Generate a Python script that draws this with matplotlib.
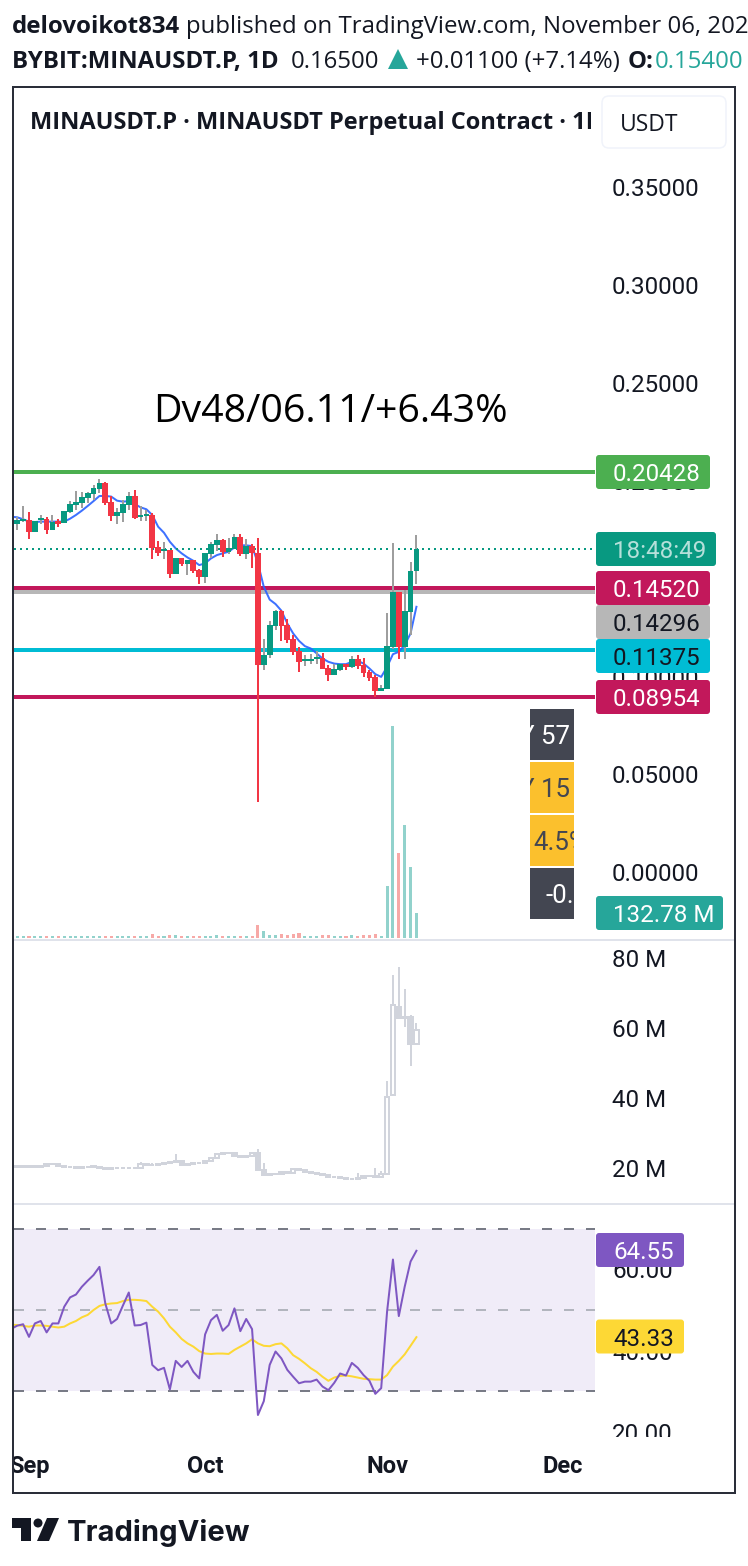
import matplotlib
matplotlib.use("Agg")
import numpy as np
import matplotlib.pyplot as plt
from matplotlib.patches import Rectangle, FancyBboxPatch, Polygon, Circle
from matplotlib.transforms import IdentityTransform, Bbox

plt.rcParams['font.family'] = ['Roboto', 'DejaVu Sans']
plt.rcParams['lines.scale_dashes'] = False

W, H = 748, 1566
PX = 0.72  # points per pixel at dpi 100
FS = 17.4

# ---------- data ----------
days = list(range(-2, 67))
line_days = [-3] + days
opens = [.1779,.1794,.1799,.1738,.1799,.1804,.1748,.1794,.1784,.1840,.1876,.1886,.1912,.1932,.1958,.1989,.1891,.1820,.1835,.1876,.1922,.1815,.1820,.1825,.1661,.1641,.1646,.1523,.1605,.1574,.1595,.1544,.1508,.1625,.1671,.1697,.1636,.1651,.1712,.1625,.1666,.1630,.1058,.1109,.1257,.1334,.1262,.1191,.1129,.1078,.1078,.1089,.1094,.1042,.1007,.1032,.1063,.1048,.1089,.1058,.1022,.0996,.0925,.0935,.1150,.1431,.1150,.1329,.1540]
closes = [.1799,.1804,.1738,.1794,.1810,.1748,.1789,.1779,.1845,.1881,.1891,.1917,.1937,.1963,.1989,.1886,.1820,.1840,.1881,.1922,.1810,.1825,.1830,.1656,.1630,.1651,.1523,.1605,.1574,.1595,.1538,.1508,.1630,.1676,.1697,.1636,.1656,.1712,.1625,.1666,.1629,.1058,.1112,.1262,.1334,.1257,.1186,.1124,.1073,.1087,.1087,.1099,.1037,.1007,.1037,.1063,.1048,.1089,.1053,.1017,.0991,.0925,.0940,.1155,.1431,.1150,.1334,.1539,.1650]
highs = [.1816,.1871,.1840,.1794,.1825,.1815,.1825,.1804,.1845,.1897,.1948,.1943,.1943,.1978,.2009,.1994,.1922,.1861,.1902,.1943,.1953,.1871,.1850,.1835,.1692,.1687,.1646,.1605,.1605,.1595,.1595,.1549,.1630,.1687,.1728,.1702,.1707,.1728,.1728,.1702,.1676,.1707,.1191,.1283,.1339,.1339,.1293,.1211,.1152,.1112,.1114,.1129,.1119,.1058,.1066,.1066,.1063,.1104,.1109,.1094,.1032,.1007,.0956,.1324,.1682,.1431,.1442,.1585,.1723]
lows = [.1748,.1791,.1702,.1738,.1779,.1728,.1748,.1764,.1784,.1833,.1850,.1861,.1886,.1902,.1937,.1876,.1794,.1779,.1789,.1850,.1804,.1794,.1794,.1600,.1615,.1600,.1503,.1523,.1564,.1518,.1528,.1472,.1477,.1603,.1641,.1610,.1625,.1651,.1615,.1600,.1554,.0357,.1032,.1094,.1237,.1181,.1170,.1109,.1022,.1053,.1063,.1063,.1037,.0976,.1007,.1027,.1032,.1042,.1037,.0996,.0976,.0894,.0925,.0935,.1138,.1089,.1089,.1211,.1472]
price_ma = [.1816,.1813,.1803,.1791,.1789,.1791,.1791,.1791,.1791,.1791,.1806,.1825,.1847,.1871,.1896,.1922,.1922,.1919,.1898,.1893,.1896,.1881,.1864,.1854,.1825,.1765,.1734,.1688,.1654,.1629,.1608,.1591,.1569,.1578,.1603,.1620,.1629,.1637,.1659,.1670,.1670,.1666,.1578,.1458,.1393,.1370,.1336,.1271,.1220,.1182,.1155,.1143,.1118,.1092,.1075,.1066,.1063,.1063,.1075,.1080,.1066,.1041,.1012,.0998,.1049,.1114,.1126,.1160,.1220,.1356]
volume = [10.6]*23 + [21,10.6,10.6,16,16,10.6,10.6,10.6,10.6,10.6,10.6,16,10.6,10.6,10.6,10.6,10.6,10.6,69,37,16,16,21,16,21,26,10.6,10.6,10.6,16,16,10.6,10.6,10.6,16,10.6,16,16,21,10.6,276,1126,451,600,377,132.78]

levels = [0.20428, 0.14520, 0.14296, 0.11375, 0.08954]
level_colors = ['#4caf50', '#c2185b', '#b7b7b7', '#00bcd4', '#c2185b']
last_close = 0.165
price_ticks = [0.35, 0.30, 0.25, 0.20, 0.15, 0.10, 0.05, 0.00]

oi_close = [20.4,20.4,20.4,20.4,20.6,21.2,21.2,20.6,20.4,20.2,20.1,20.2,20.4,20.4,20.0,19.8,19.9,20.0,20.0,20.0,20.0,21.2,20.9,20.9,21.1,21.3,21.6,22.1,20.8,21.2,21.3,21.5,22.1,22.8,24.0,24.4,24.2,23.4,23.2,23.4,24.2,19.4,18.0,18.2,18.2,19.0,18.7,19.6,19.4,19.0,18.7,18.3,18.0,17.5,17.3,17.1,16.9,16.9,17.1,17.7,17.7,17.3,18.2,40.4,66.6,62.8,62.96,55.3,59.4]
oi_open = [20.4] + oi_close[:63] + [40.9,65.9,63.2,63.2,55.3]
oi_wick_hi = {5:21.0, 22:21.6, 24:21.4, 28:24.0, 42:25.3, 43:21.3, 59:18.5, 62:19.9, 63:19.2, 64:44.9, 65:75.1, 66:77.3, 67:71.1, 68:63.6, 69:61.3}
oi_wick_lo = {68:49.2, 66:62.5, 67:60.2}
oi_ticks = [20, 40, 60, 80]

rsi = [45.4,46.15,46.5,43.4,46.7,47.3,44.5,46.7,46.7,50.8,53.1,53.8,55.7,57.2,58.6,60.6,51.6,46.7,47.8,51.1,54.3,46.2,46.3,46.9,36.5,35.2,35.8,30.5,37.5,36.0,37.5,34.8,33.2,44.0,47.5,48.8,44.9,46.3,50.4,44.8,47.8,45.3,24.2,27.6,36.5,39.8,38.1,35.3,33.6,32.0,32.4,32.4,32.9,31.2,30.3,32.1,34.4,33.9,37.0,35.8,34.0,32.6,29.4,30.8,49.6,62.4,48.5,55.7,61.9,64.55]
rsi_ma = [46.4,46.3,46.1,45.9,46.2,46.2,46.1,45.9,45.7,45.9,46.7,47.3,48.2,48.8,50.0,51.0,51.4,51.6,51.7,52.2,52.5,52.5,52.4,52.2,50.8,49.6,47.95,45.9,44.5,42.9,41.8,41.0,39.9,39.3,39.2,39.3,39.3,39.2,40.2,41.0,41.8,42.8,41.8,41.2,41.1,41.6,41.8,40.6,38.9,38.0,36.9,35.7,34.8,33.6,32.6,33.4,33.8,33.9,33.7,33.4,33.1,33.0,32.9,32.9,34.0,36.1,37.5,39.1,41.2,43.33]
rsi_ticks = [60, 40, 20]
rsi_bands = [70, 50, 30]

month_pos = [0, 30, 61, 91]
month_names = ['Sep', 'Oct', 'Nov', 'Dec']

# ---------- colours ----------
UP, DOWN = '#089981', '#f23645'
UP_VOL, DOWN_VOL = '#92d2cc', '#f7a9a7'
INK = '#131722'
OI_C = '#d1d4dc'

# ---------- layout helpers ----------
fig = plt.figure(figsize=(W/100, H/100), dpi=100, facecolor='white')
ID = IdentityTransform()
Y = lambda y: H - y

def pane(x0, x1, ytop, ybot):
    ax = fig.add_axes([x0/W, (H-ybot)/H, (x1-x0)/W, (ybot-ytop)/H])
    ax.patch.set_alpha(0)
    for s in ax.spines.values():
        s.set_visible(False)
    return ax

XL = ((14-29)/5.87, (595-29)/5.87)

# ---------- main pane ----------
vol_ax = pane(14, 595, 87, 940)
vol_ax.set_xlim(XL); vol_ax.set_ylim(-10.6, 4519); vol_ax.axis('off')
vol_cols = [UP_VOL if c >= o else DOWN_VOL for o, c in zip(opens, closes)]
vol_ax.bar(days, volume, width=0.52, color=vol_cols, linewidth=0)

ax = pane(14, 595, 87, 940)
ax.set_xlim(XL)
ax.set_ylim((872.3-940)/1958, (872.3-87)/1958)
ax.yaxis.tick_right()
ax.set_yticks(price_ticks, [f'{v:.5f}' for v in price_ticks])
ax.tick_params(axis='y', length=0, pad=17*PX, labelsize=FS, labelcolor=INK)
ax.set_xticks([])
ax.hlines(levels, XL[0], XL[1], colors=level_colors, linewidth=4*PX, zorder=1)
ax.plot(line_days, price_ma, color='#2962ff', lw=2*PX, zorder=2, alpha=.9)
ax.hlines(last_close, XL[0], XL[1], colors=UP, linewidth=2*PX, linestyles=[(0, (2*PX, 4*PX))], zorder=2)
for d, o, h, l, c in zip(days, opens, highs, lows, closes):
    up = c >= o
    ax.vlines(d, l, h, colors='#9e9e9e' if up else DOWN, linewidth=2*PX, zorder=3)
    ax.bar(d, abs(c-o), bottom=min(o, c), width=0.98, color=UP if up else DOWN, linewidth=0, zorder=4)

# ---------- open interest pane ----------
ax2 = pane(14, 595, 942, 1203)
ax2.set_xlim(XL)
ax2.set_ylim(20-(1203-1168)/3.5, 20+(1168-942)/3.5)
ax2.yaxis.tick_right()
ax2.set_yticks(oi_ticks, [f'{v} M' for v in oi_ticks])
ax2.tick_params(axis='y', length=0, pad=17*PX, labelsize=FS, labelcolor=INK)
ax2.set_xticks([])
for i, (d, o, c) in enumerate(zip(days, oi_open, oi_close), start=1):
    hi = oi_wick_hi.get(i, max(o, c))
    lo = oi_wick_lo.get(i, min(o, c))
    ax2.vlines(d, lo, hi, colors=OI_C, linewidth=2*PX, zorder=2)
    ax2.bar(d, max(abs(c-o), .05), bottom=min(o, c), width=0.72,
            facecolor='white' if c > o else OI_C, edgecolor=OI_C, linewidth=2*PX, zorder=3)

# ---------- RSI pane ----------
ax3 = pane(14, 595, 1205, 1437)
ax3.set_xlim(XL)
ax3.set_ylim(50-(1437-1310)/4.07, 50+(1310-1205)/4.07)
ax3.yaxis.tick_right()
ax3.set_yticks(rsi_ticks, [f'{v:.2f}' for v in rsi_ticks])
ax3.tick_params(axis='y', length=0, pad=17*PX, labelsize=FS, labelcolor=INK)
ax3.axhspan(rsi_bands[2], rsi_bands[0], color='#f0ecf8', lw=0, zorder=0)
dash = [(0, (10*PX, 12*PX))]
ax3.hlines([rsi_bands[0], rsi_bands[2]], XL[0], XL[1], colors='#787b86', lw=2*PX, linestyles=dash, zorder=1)
ax3.hlines(rsi_bands[1], XL[0], XL[1], colors='#b2b5be', lw=2*PX, linestyles=dash, zorder=1)
ax3.plot(line_days, rsi, color='#7e57c2', lw=2*PX, zorder=3)
ax3.plot(line_days, rsi_ma, color='#fdd835', lw=2*PX, zorder=2)
ax3.set_xticks(month_pos, month_names)
ax3.tick_params(axis='x', length=0, pad=18*PX, labelsize=17, labelcolor=INK)
for t in ax3.get_xticklabels():
    t.set_fontweight('bold')
    t.set_clip_on(True); t.set_clip_box(Bbox([[14, 0], [748, H]]))
for t in ax3.get_yticklabels():
    t.set_clip_on(True); t.set_clip_box(Bbox([[0, Y(1437)], [748, H]]))

# ---------- frame ----------
for y in (940, 1204):
    fig.add_artist(Rectangle((14, Y(y)-1), 721, 2, transform=ID, fc='#e0e3eb', ec='none', zorder=3))
fig.add_artist(Rectangle((13, Y(1493)), 722, 1493-87, transform=ID, fc='none', ec='#2a2e39', lw=2*PX, zorder=8))

# ---------- value tags ----------
def tag(yc, label, fc, tc, x1=710, h=34):
    fig.add_artist(FancyBboxPatch((596, Y(yc)-h/2), x1-596, h, boxstyle='round,pad=0,rounding_size=3',
                                  transform=ID, fc=fc, ec='none', zorder=5))
    fig.text(613, Y(yc), label, transform=ID, color=tc, fontsize=FS, va='center_baseline', ha='left', zorder=6)

tag(472, f'{levels[0]:.5f}', level_colors[0], 'white')
tag(549, '18:48:49', UP, '#b5e0da', x1=716)
tag(588, f'{levels[1]:.5f}', level_colors[1], 'white')
tag(622, f'{levels[2]:.5f}', level_colors[2], INK)
tag(656, f'{levels[3]:.5f}', level_colors[3], INK)
tag(697, f'{levels[4]:.5f}', level_colors[4], 'white')
tag(913, f'{volume[-1]:.2f} M', '#26a69a', 'white', x1=723)
tag(1250, f'{rsi[-1]:.2f}', '#7e57c2', 'white', x1=684)
tag(1336.5, f'{rsi_ma[-1]:.2f}', '#fdd835', INK, x1=684)

# ---------- clipped stat boxes ----------
stat_boxes = [(709, 760, '#434651', 'white', 'Y 57', 519),
              (762, 813, '#fbc02d', '#434651', 'Y 15', 519),
              (815, 866, '#fbc02d', '#434651', '4.5%', 533),
              (868, 919, '#434651', 'white', '-0.', 545)]
for y0, y1, fc, tc, s, xt in stat_boxes:
    fig.add_artist(Rectangle((530, Y(y1)), 44, y1-y0, transform=ID, fc=fc, ec='none', zorder=5))
    t = fig.text(xt, Y((y0+y1)/2), s, transform=ID, color=tc, fontsize=18.6, va='center_baseline', zorder=6)
    t.set_clip_on(True); t.set_clip_box(Bbox([[530, Y(y1)], [574, Y(y0)]]))

# ---------- text ----------
OS = ['Open Sans', 'DejaVu Sans']
fig.text(330, Y(408), 'Dv48/06.11/+6.43%', transform=ID, fontsize=28.3, family=OS, color='black',
         ha='center', va='center_baseline', zorder=6)

t = fig.text(30, Y(120), 'MINAUSDT.P · MINAUSDT Perpetual Contract · 1D', transform=ID, fontsize=17,
             family=OS, fontweight='bold', color=INK, va='center_baseline', zorder=6)
t.set_clip_on(True); t.set_clip_box(Bbox([[14, 0], [591, H]]))
fig.add_artist(FancyBboxPatch((602, Y(148)), 124, 52, boxstyle='round,pad=0,rounding_size=7', transform=ID,
                              fc='white', ec='#f0f3fa', lw=1.5*PX, zorder=5))
fig.text(620, Y(122), 'USDT', transform=ID, fontsize=16.5, family=OS, color=INK, va='center_baseline', zorder=6)

renderer = fig.canvas.get_renderer()
def seq(x, y, parts, fs=17.3):
    for s, weight, col, gap in parts:
        t = fig.text(x, Y(y), s, transform=ID, fontsize=fs, family=OS, fontweight=weight, color=col,
                     va='center_baseline', zorder=6)
        x = t.get_window_extent(renderer).x1 + gap

seq(12, 24, [('delovoikot834', 'bold', INK, 6),
             ('published on TradingView.com, November 06, 2024', 'normal', INK, 0)])
seq(12, 59, [('BYBIT:MINAUSDT.P, 1D', 'bold', INK, 12),
             ('0.16500', 'normal', INK, 6)])
fig.add_artist(Polygon([[388, Y(69)], [408, Y(69)], [398, Y(49)]], transform=ID, fc='#26a69a', ec='none', zorder=6))
seq(416, 59, [('+0.01100 (+7.14%)', 'normal', INK, 8),
              ('O:', 'bold', INK, 1),
              ('0.15400', 'normal', '#26a69a', 0)])

# ---------- logo ----------
for pts in ([[12, 1518], [31, 1518], [31, 1541], [21, 1541], [21, 1528], [12, 1528]],
            [[47, 1518], [59, 1518], [49, 1541], [37, 1541]]):
    fig.add_artist(Polygon([[px, Y(py)] for px, py in pts], transform=ID, fc=INK, ec='none', zorder=6))
fig.add_artist(Circle((38, Y(1523)), 4.5, transform=ID, fc=INK, ec='none', zorder=6))
fig.text(67, Y(1530), 'TradingView', transform=ID, fontsize=21, family=['Inter', 'DejaVu Sans'],
         fontweight='bold', color=INK, va='center_baseline', zorder=6)

fig.savefig('out.png', dpi=100, facecolor='white')
